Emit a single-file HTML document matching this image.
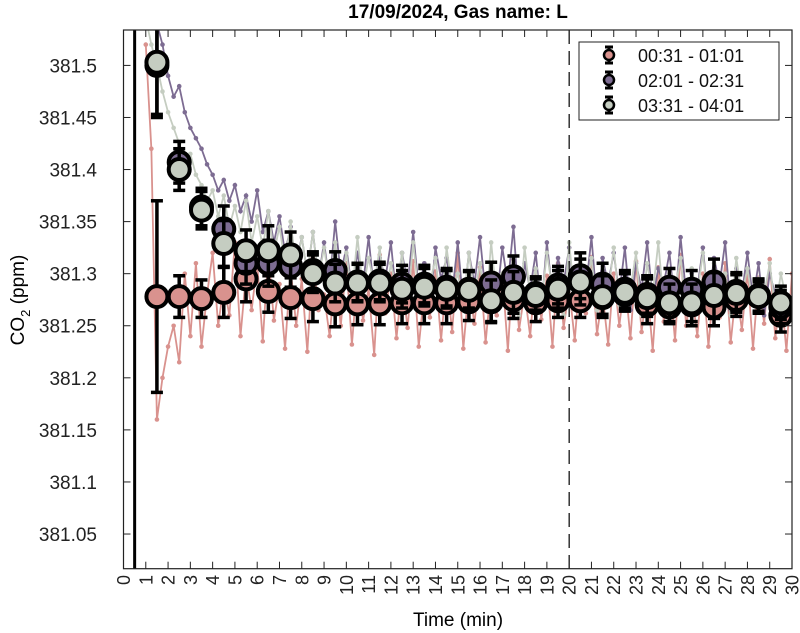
<!DOCTYPE html>
<html><head><meta charset="utf-8"><style>
html,body{margin:0;padding:0;background:#fff;}
svg{display:block;font-family:"Liberation Sans",sans-serif;}
</style></head><body>
<svg id="chart" width="800" height="633" viewBox="0 0 800 633" xmlns="http://www.w3.org/2000/svg">
<text x="458" y="18" text-anchor="middle" font-size="19" font-weight="bold">17/09/2024, Gas name: L</text>
<text transform="translate(24,300) rotate(-90)" text-anchor="middle" font-size="19">CO<tspan font-size="13" dy="6">2</tspan><tspan dy="-6"> (ppm)</tspan></text>
<text x="458" y="626" text-anchor="middle" font-size="19">Time (min)</text>
<defs><clipPath id="plotclip"><rect x="123.5" y="30" width="668.5" height="538.7"/></clipPath></defs>
<g id="raw" clip-path="url(#plotclip)"></g>
<g id="marks" clip-path="url(#plotclip)"></g>
<g id="axes"></g>
<g>
<rect x="579" y="42" width="200" height="78" fill="#fff" stroke="#222" stroke-width="1"/>
<g id="legend-items"></g>
</g>
</svg>
<script>
const minutes = [1.5,2.5,3.5,4.5,5.5,6.5,7.5,8.5,9.5,10.5,11.5,12.5,13.5,14.5,15.5,16.5,17.5,18.5,19.5,20.5,21.5,22.5,23.5,24.5,25.5,26.5,27.5,28.5,29.5];
const pinkMean = [381.278,381.278,381.276,381.282,381.295,381.283,381.277,381.276,381.271,381.271,381.271,381.272,381.272,381.272,381.273,381.273,381.275,381.272,381.274,381.274,381.277,381.280,381.270,381.268,381.270,381.268,381.275,381.278,381.260];
const pinkErr = [0.092,0.020,0.018,0.024,0.022,0.020,0.020,0.022,0.022,0.020,0.020,0.020,0.020,0.020,0.018,0.020,0.018,0.018,0.016,0.016,0.016,0.014,0.018,0.016,0.020,0.018,0.016,0.014,0.016];
const purpleMean = [381.500,381.407,381.364,381.343,381.310,381.310,381.307,381.303,381.303,381.292,381.293,381.290,381.290,381.287,381.285,381.291,381.297,381.281,381.289,381.298,381.290,381.285,381.280,381.287,381.285,381.292,381.283,381.279,381.268];
const purpleErr = [0.050,0.020,0.018,0.022,0.020,0.022,0.020,0.018,0.018,0.018,0.018,0.018,0.018,0.018,0.018,0.020,0.020,0.016,0.018,0.022,0.020,0.018,0.018,0.018,0.018,0.022,0.018,0.016,0.016];
const grayMean = [381.503,381.400,381.361,381.329,381.322,381.322,381.318,381.300,381.291,381.291,381.291,381.285,381.287,381.285,381.284,381.274,381.282,381.279,381.285,381.292,381.278,381.282,381.277,381.272,381.272,381.279,381.281,381.278,381.272];
const grayErr = [0.050,0.020,0.018,0.022,0.020,0.024,0.022,0.018,0.018,0.018,0.018,0.018,0.018,0.018,0.018,0.020,0.020,0.016,0.018,0.022,0.020,0.018,0.018,0.018,0.018,0.022,0.018,0.016,0.016];
// raw samples in thousandths above 381 ppm, 4 samples per minute
const pinkRawStart = 1.0;
const pinkRaw = [520,420,160,200,230,250,215,300,240,310,230,280,320,250,290,260,330,240,300,265,310,235,320,255,290,228,305,250,295,225,315,265,280,240,300,250,310,232,298,255,286,222,318,262,300,238,292,248,312,230,284,258,302,236,296,244,320,228,288,252,306,234,290,260,300,226,314,246,282,240,304,256,298,230,310,248,286,236,302,262,316,242,280,232,300,250,294,238,312,244,288,226,306,254,296,236,318,250,284,240,300,230,292,258,310,234,286,246,302,228,296,252,314,238,284,226,300,240];
const purpleRawStart = 1.5;
const purpleRaw = [540,520,490,470,480,455,440,430,420,405,395,380,390,370,385,360,375,350,380,340,360,330,355,320,345,310,335,300,340,295,330,290,350,300,325,285,320,290,335,280,315,295,330,275,320,290,340,285,310,270,325,295,315,280,330,270,320,290,335,280,305,275,325,290,345,270,310,285,320,265,330,280,315,290,325,275,300,285,335,270,315,290,320,280,325,265,310,285,330,275,305,290,320,270,335,280,300,285,325,270,315,290,330,265,305,280,320,275,310,260,300,280];
const grayRawStart = 1.0;
const grayRaw = [545,520,500,475,455,440,425,410,415,395,385,370,380,355,375,345,365,340,370,330,355,325,360,320,345,310,350,305,335,300,340,295,325,290,330,285,320,280,335,285,315,290,325,275,310,285,320,270,330,280,305,290,315,265,325,285,300,270,320,280,310,265,330,275,300,285,315,260,325,280,305,270,320,285,300,260,330,275,310,285,315,265,305,280,325,270,300,285,320,260,310,280,330,270,300,285,315,265,305,280,320,270,310,285,300,260,315,280,305,270,295,280,310,265,300,275];
const yTicks = [381.05,381.1,381.15,381.2,381.25,381.3,381.35,381.4,381.45,381.5];
const yTickLabels = ["381.05","381.1","381.15","381.2","381.25","381.3","381.35","381.4","381.45","381.5"];
const xTicks = [0,1,2,3,4,5,6,7,8,9,10,11,12,13,14,15,16,17,18,19,20,21,22,23,24,25,26,27,28,29,30];
const legendLabels = ["00:31 - 01:01","02:01 - 02:31","03:31 - 04:01"];

const X0=123.5,X1=792,Y0=568.7,Y1=30;
const xMin=0,xMax=30,yMin=381.0167,yMax=381.534;
const sx=v=>X0+(v-xMin)/(xMax-xMin)*(X1-X0);
const sy=v=>Y0-(v-yMin)/(yMax-yMin)*(Y0-Y1);
const NS="http://www.w3.org/2000/svg";
function mk(tag,attrs,parent){const e=document.createElementNS(NS,tag);for(const k in attrs)e.setAttribute(k,attrs[k]);parent.appendChild(e);return e;}
const colors={pink:"#d9928e",purple:"#7d6c92",gray:"#c5cdc1"};
const rawG=document.getElementById('raw');
function drawRaw(arr,start,col,name){
  const pts=arr.map((v,i)=>[sx(start+i/4),sy(381+v/1000)]);
  const pl=mk('polyline',{points:pts.map(p=>p.join(',')).join(' '),fill:'none',stroke:col,'stroke-width':1.8},rawG);
  
  
  pts.forEach(p=>{const c=mk('circle',{cx:p[0],cy:p[1],r:2.3,fill:col},rawG);
    
    });
}
drawRaw(pinkRaw,pinkRawStart,colors.pink,'pink');
drawRaw(purpleRaw,purpleRawStart,colors.purple,'purple');
drawRaw(grayRaw,grayRawStart,colors.gray,'gray');
const marks=document.getElementById('marks');
function drawMeans(means,errs,col,name){
  means.forEach((m,i)=>{
    const x=sx(minutes[i]),yt=sy(m+errs[i]),yb=sy(m-errs[i]);
    const g=mk('g',{},marks);
    
    
    mk('line',{x1:x,x2:x,y1:yt,y2:yb,stroke:'#000','stroke-width':3.5},g);
    mk('line',{x1:x-6,x2:x+6,y1:yt,y2:yt,stroke:'#000','stroke-width':3.5},g);
    mk('line',{x1:x-6,x2:x+6,y1:yb,y2:yb,stroke:'#000','stroke-width':3.5},g);
    mk('circle',{cx:x,cy:sy(m),r:10.5,fill:col,stroke:'#000','stroke-width':4},g);
  });
}
drawMeans(pinkMean,pinkErr,colors.pink,'pink');
drawMeans(purpleMean,purpleErr,colors.purple,'purple');
drawMeans(grayMean,grayErr,colors.gray,'gray');
const ax=document.getElementById('axes');
mk('line',{x1:sx(0.5),x2:sx(0.5),y1:Y1,y2:Y0,stroke:'#000','stroke-width':3},ax);
mk('line',{x1:sx(20),x2:sx(20),y1:Y1,y2:Y0,stroke:'#000','stroke-width':1.2,'stroke-dasharray':'14,7'},ax);
mk('rect',{x:X0,y:Y1,width:X1-X0,height:Y0-Y1,fill:'none',stroke:'#222','stroke-width':1.2},ax);
yTicks.forEach((v,i)=>{const y=sy(v);
  mk('line',{x1:X0,x2:X0+7,y1:y,y2:y,stroke:'#222','stroke-width':1},ax);
  mk('line',{x1:X1,x2:X1-7,y1:y,y2:y,stroke:'#222','stroke-width':1},ax);
  const t=mk('text',{x:97,y:y+7,'text-anchor':'end','font-size':19,fill:'#222'},ax);t.textContent=yTickLabels[i];
  
  
});
xTicks.forEach(v=>{const x=sx(v);
  mk('line',{x1:x,x2:x,y1:Y0,y2:Y0-7,stroke:'#222','stroke-width':1},ax);
  mk('line',{x1:x,x2:x,y1:Y1,y2:Y1+7,stroke:'#222','stroke-width':1},ax);
  const t=mk('text',{transform:`translate(${x+6.5},575) rotate(-90)`,'text-anchor':'end','font-size':18,fill:'#222'},ax);t.textContent=String(v);
  
  
});
const lg=document.getElementById('legend-items');
[colors.pink,colors.purple,colors.gray].forEach((c,i)=>{const y=55+i*25,x=609;
  const g=mk('g',{},lg);
  
  
  mk('line',{x1:x,x2:x,y1:y-8,y2:y+8,stroke:'#000','stroke-width':3},g);
  mk('line',{x1:x-4,x2:x+4,y1:y-8,y2:y-8,stroke:'#000','stroke-width':3},g);
  mk('line',{x1:x-4,x2:x+4,y1:y+8,y2:y+8,stroke:'#000','stroke-width':3},g);
  mk('circle',{cx:x,cy:y,r:5,fill:c,stroke:'#000','stroke-width':2.5},g);
  const t=mk('text',{x:638,y:y+7,'font-size':18,fill:'#111'},g);t.textContent=legendLabels[i];
});
</script>
</body></html>
